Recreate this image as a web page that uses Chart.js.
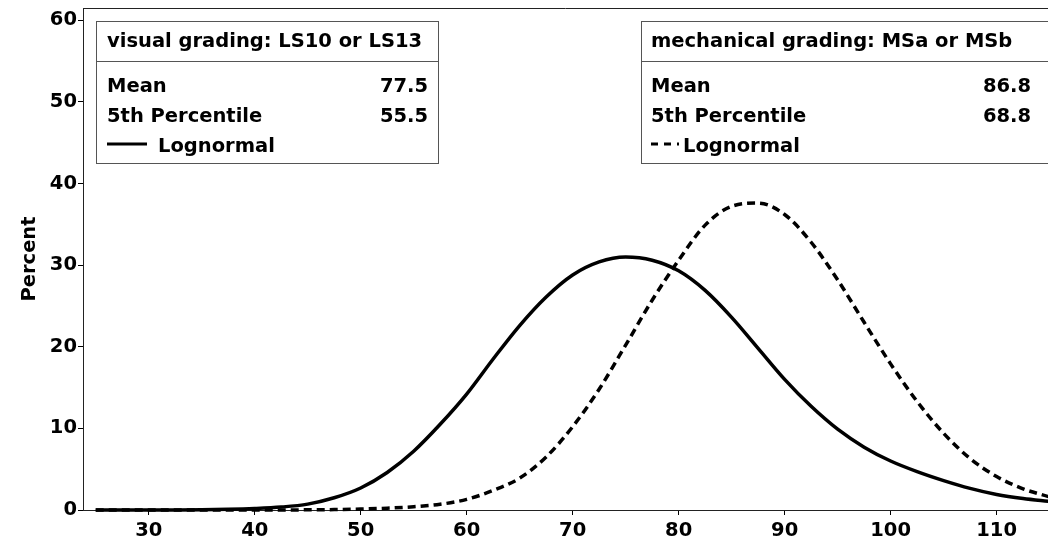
<!DOCTYPE html>
<html>
<head>
<meta charset="utf-8">
<script src="https://cdn.jsdelivr.net/npm/chart.js@4.4.0/dist/chart.umd.min.js"></script>
<style>
  html, body { margin: 0; padding: 0; background: #ffffff; }
  #wrap { width: 1048px; height: 544px; }
</style>
</head>
<body>
<div id="wrap"><canvas id="chart" width="1048" height="544"></canvas></div>
<script>
// Strength grid and the two fitted lognormal curves (percent)
const strength = [25, 27.5, 30, 32.5, 35, 37.5, 40, 42.5, 45, 47.5, 50, 52.5, 55, 57.5, 60, 62.5, 65, 67.5,
  70, 72.5, 75, 77.5, 80, 82.5, 85, 87.5, 90, 92.5, 95, 97.5, 100, 102.5, 105, 107.5, 110, 112.5, 115]
const visualPct = [0, 0, 0, 0.01, 0.03, 0.08, 0.18, 0.36, 0.72, 1.5, 2.7, 4.6, 7.2, 10.5, 14.2, 18.5, 22.6, 26.1,
  28.8, 30.4, 31.0, 30.6, 29.3, 26.9, 23.6, 19.8, 16.0, 12.7, 9.9, 7.7, 6.0, 4.7, 3.6, 2.65, 1.9, 1.4, 1.05]
const mechanicalPct = [0, 0, 0, 0, 0, 0, 0, 0.01, 0.02, 0.05, 0.12, 0.22, 0.4, 0.7, 1.3, 2.4, 3.9, 6.5,
  10.2, 14.8, 20.2, 25.7, 30.6, 34.9, 37.2, 37.6, 36.2, 32.8, 28.2, 23.0, 17.9, 13.3, 9.4, 6.3, 4.1, 2.6, 1.6]

const xTicks = [30, 40, 50, 60, 70, 80, 90, 100, 110]
const yTicks = [0, 10, 20, 30, 40, 50, 60]

// inset tables
const insetTitles = ['visual grading: LS10 or LS13', 'mechanical grading: MSa or MSb']
const insetMeans = ['77.5', '86.8']
const insetP5 = ['55.5', '68.8']
const curveLabel = 'Lognormal'

const FAMILY = '"DejaVu Sans", "Liberation Sans", Arial, sans-serif'
const FONT = 'bold 19.5px ' + FAMILY
const DASH = [8, 5]

const toPoints = (ys) => strength.map((x, i) => ({ x: x, y: ys[i] }))

const insetPlugin = {
  id: 'insets',
  afterDraw(chart) {
    const ctx = chart.ctx
    const area = chart.chartArea
    ctx.save()

    // top frame line
    ctx.strokeStyle = '#222222'
    ctx.lineWidth = 1
    ctx.beginPath()
    ctx.moveTo(area.left, 8.5)
    ctx.lineTo(chart.width, 8.5)
    ctx.stroke()

    const boxes = [
      { left: 96.5, right: 438.5, textX: 107, valX: 428, sample: [107, 147], labelX: 158, dash: [] },
      { left: 641.5, right: 1060, textX: 651, valX: 1031, sample: [651, 679], labelX: 683, dash: [7, 6] }
    ]
    boxes.forEach((b, i) => {
      ctx.strokeStyle = '#555555'
      ctx.lineWidth = 1
      ctx.setLineDash([])
      ctx.strokeRect(b.left, 21.5, b.right - b.left, 142)
      ctx.beginPath()
      ctx.moveTo(b.left, 61.5)
      ctx.lineTo(b.right, 61.5)
      ctx.stroke()

      ctx.fillStyle = '#000000'
      ctx.font = FONT
      ctx.textBaseline = 'middle'
      ctx.textAlign = 'left'
      ctx.fillText(insetTitles[i], b.textX, 42)
      ctx.fillText('Mean', b.textX, 87)
      ctx.fillText('5th Percentile', b.textX, 117)
      ctx.fillText(curveLabel, b.labelX, 147)
      ctx.textAlign = 'right'
      ctx.fillText(insetMeans[i], b.valX, 87)
      ctx.fillText(insetP5[i], b.valX, 117)

      ctx.strokeStyle = '#000000'
      ctx.lineWidth = 3
      ctx.setLineDash(b.dash)
      ctx.beginPath()
      ctx.moveTo(b.sample[0], 144)
      ctx.lineTo(b.sample[1], 144)
      ctx.stroke()
    })
    ctx.restore()
  }
}

new Chart(document.getElementById('chart'), {
  type: 'line',
  data: {
    datasets: [
      {
        label: 'visual grading',
        data: toPoints(visualPct),
        borderColor: '#000000',
        borderWidth: 3.5,
        pointRadius: 0,
        cubicInterpolationMode: 'monotone',
        fill: false,
        clip: 4
      },
      {
        label: 'mechanical grading',
        data: toPoints(mechanicalPct),
        borderColor: '#000000',
        borderWidth: 3.5,
        borderDash: DASH,
        pointRadius: 0,
        cubicInterpolationMode: 'monotone',
        fill: false,
        clip: 4
      }
    ]
  },
  options: {
    responsive: false,
    animation: false,
    devicePixelRatio: 1,
    layout: { padding: { top: 8, right: 0, left: 0, bottom: 0 } },
    plugins: {
      legend: { display: false },
      tooltip: { enabled: false }
    },
    scales: {
      x: {
        type: 'linear',
        min: 23.8,
        max: 114.85,
        afterBuildTicks: (scale) => { scale.ticks = xTicks.map(v => ({ value: v })) },
        afterFit: (scale) => {
          scale.height = 34
          scale.paddingLeft = 0
          scale.paddingRight = 0
        },
        grid: { display: true, drawOnChartArea: false, drawTicks: true, tickLength: 5, color: '#000000' },
        border: { display: true, color: '#222222', width: 1 },
        ticks: {
          color: '#000000',
          padding: 4,
          maxRotation: 0,
          font: { family: FAMILY, size: 19.5, weight: 'bold' }
        }
      },
      y: {
        min: 0,
        max: 61.5,
        afterBuildTicks: (scale) => { scale.ticks = yTicks.map(v => ({ value: v })) },
        afterFit: (scale) => {
          scale.width = 83
          scale.paddingTop = 0
          scale.paddingBottom = 0
        },
        grid: { display: true, drawOnChartArea: false, drawTicks: true, tickLength: 5, color: '#000000' },
        border: { display: true, color: '#222222', width: 1 },
        ticks: {
          color: '#000000',
          padding: 1,
          font: { family: FAMILY, size: 19.5, weight: 'bold' }
        },
        title: {
          display: true,
          text: 'Percent',
          color: '#000000',
          padding: { top: 18, bottom: 0 },
          font: { family: FAMILY, size: 19.5, weight: 'bold' }
        }
      }
    }
  },
  plugins: [insetPlugin]
})
</script>
</body>
</html>
